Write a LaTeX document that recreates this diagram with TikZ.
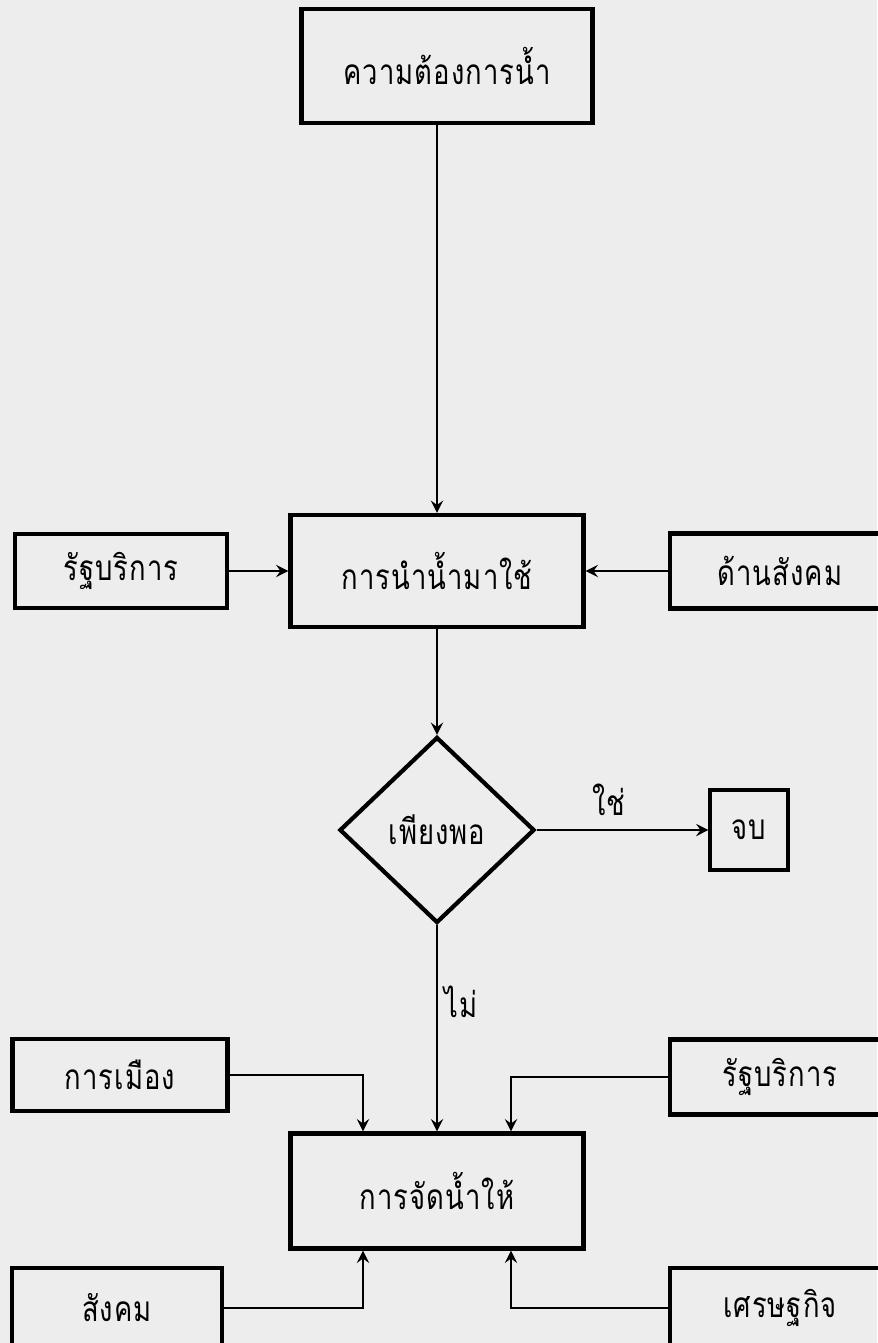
\documentclass[tikz,border=0pt]{standalone}
\usepackage{fontspec}
\newfontfamily\thaifont[Script=Thai, LetterSpace=3, FakeStretch=0.78]{Loma}
\usetikzlibrary{shapes.geometric, arrows.meta, positioning}
\tikzstyle{arrow} = [line width=1.5pt,->,>={Stealth[length=7pt, width=7pt, inset=2.5pt]}]
\tikzstyle{bigbox} = [
    rectangle, draw=black, line width=2.4pt, minimum width=5.86cm,
    minimum height=2.3cm, text centered, font=\thaifont\fontsize{20}{24}\selectfont
]
\tikzstyle{sidebox} = [
    rectangle, draw=black, line width=2.4pt, minimum width=4.3cm,
    minimum height=1.45cm, text centered, font=\thaifont\fontsize{20}{24}\selectfont
]
\tikzstyle{decision} = [
    diamond, draw=black, line width=2.4pt, minimum width=3.9cm, minimum height=3.72cm,
    inner sep=0pt, text centered, font=\thaifont\fontsize{20}{24}\selectfont
]
\tikzstyle{endbox} = [
    rectangle, draw=black, line width=1.8pt, minimum width=1.56cm,
    minimum height=1.6cm, text centered, font=\thaifont\fontsize{20}{24}\selectfont
]

\begin{document}
\begin{tikzpicture}[node distance=1.4cm]
% paper
\fill [black!7] (0,0) rectangle (17.54,-26.86);
\useasboundingbox (0,0) rectangle (17.54,-26.86);

% Main path
\node (Need) [bigbox, minimum width=5.82cm, minimum height=2.28cm] at (8.94,-1.32) {ความต้องการน้ำ};
\node (Use) [bigbox, below of=Need, yshift=-8.7cm, xshift=-0.2cm, minimum height=2.24cm] {การนำน้ำมาใช้};
\node (Check) [decision, below of=Use, yshift=-3.78cm] {เพียงพอ};
\node (End) [endbox, right of=Check, xshift=4.84cm] {จบ};
\node (Supply) [bigbox, below of=Check, yshift=-5.82cm] {การจัดน้ำให้};

% Side factors
\node (Gov_1) [sidebox, left of=Use, xshift=-4.92cm, minimum width=4.24cm, minimum height=1.48cm] {รัฐบริการ};
\node (Social_1) [sidebox, right of=Use, xshift=5.46cm, minimum width=4.4cm, minimum height=1.5cm] {ด้านสังคม};
\node (Politics) [sidebox, left of=Supply, xshift=-4.94cm, yshift=2.32cm] {การเมือง};
\node (Gov_2) [sidebox, right of=Supply, xshift=5.46cm, yshift=2.28cm, minimum width=4.4cm, minimum height=1.5cm] {รัฐบริการ};
\node (Society) [sidebox, left of=Supply, xshift=-5cm, yshift=-2.34cm, minimum width=4.2cm, minimum height=1.6cm] {สังคม};
\node (Economy) [sidebox, right of=Supply, xshift=5.46cm, yshift=-2.34cm, minimum width=4.4cm, minimum height=1.6cm] {เศรษฐกิจ};

% Connections
\draw [arrow] (Need.south -| Use.north) -- (Use.north);
\draw [arrow] (Gov_1) -- (Use);
\draw [arrow] (Social_1) -- (Use);
\draw [arrow] (Use) -- (Check);
\draw [arrow] (Check) -- node[pos=0.42, above, yshift=4pt, font=\thaifont\fontsize{20}{24}\selectfont] {ใช่} (End);
\draw [arrow] (Check) -- node[pos=0.37, anchor=west, font=\thaifont\fontsize{20}{24}\selectfont] {ไม่} (Supply);

% Factors into the supply box
\draw [arrow] (Politics.east) -| ([xshift=-1.48cm]Supply.north);
\draw [arrow] (Gov_2.west) -| ([xshift=1.48cm]Supply.north);
\draw [arrow] (Society.east) -| ([xshift=-1.48cm]Supply.south);
\draw [arrow] (Economy.west) -| ([xshift=1.48cm]Supply.south);

\end{tikzpicture}
\end{document}
